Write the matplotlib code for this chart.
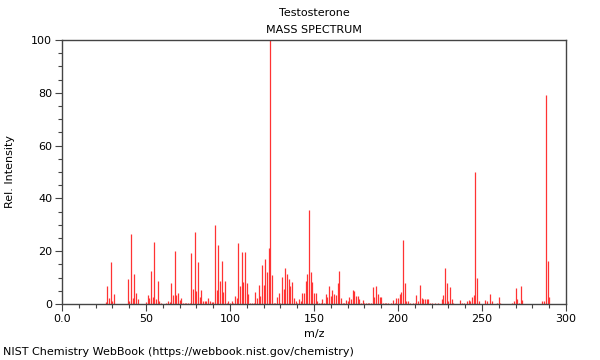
import matplotlib
matplotlib.use("Agg")
import matplotlib.pyplot as plt
from matplotlib.ticker import MultipleLocator, FixedLocator

mz = [26, 27, 28, 29, 30, 31, 39, 40, 41, 42, 43, 44, 45,
      50, 51, 52, 53, 54, 55, 56, 57, 58, 59,
      62, 63, 64, 65, 66, 67, 68, 69, 70, 71, 72, 73, 74, 75, 76,
      77, 78, 79, 80, 81, 82, 83, 84, 85, 86, 87, 88, 89, 90,
      91, 92, 93, 94, 95, 96, 97, 98, 99, 100, 101, 102, 103, 104,
      105, 106, 107, 108, 109, 110, 111, 112, 113, 114, 115, 116, 117, 118,
      119, 120, 121, 122, 123, 124, 125, 126, 127, 128, 129, 130,
      131, 132, 133, 134, 135, 136, 137, 138, 139, 140, 141, 142, 143, 144,
      145, 146, 147, 148, 149, 150, 151, 152, 153, 154, 155, 156, 157, 158,
      159, 160, 161, 162, 163, 164, 165, 166, 167, 168, 169, 170, 171, 172,
      173, 174, 175, 176, 177, 178, 179, 180, 181, 182, 183, 184, 185, 186,
      187, 188, 189, 190, 191, 192, 193, 194, 196, 197, 198, 199, 200, 201,
      202, 203, 204, 205, 206, 207, 209, 210, 211, 212, 213, 214, 215, 216,
      217, 218, 219, 220, 222, 224, 226, 227, 228, 229, 230, 231, 232, 233,
      237, 238, 239, 241, 242, 243, 244, 245, 246, 247, 248, 252, 253, 255,
      256, 259, 260, 261, 268, 269, 270, 271, 272, 273, 274, 286, 287, 288,
      289, 290]
intensity = [0.6, 6.8, 2.4, 16.0, 1.2, 3.8, 9.3, 1.0, 26.6, 2.2, 11.4, 4.0, 1.9,
             0.8, 3.4, 2.4, 12.5, 2.6, 23.5, 2.0, 8.7, 1.2, 0.5,
             0.5, 1.0, 0.8, 7.8, 3.4, 20.0, 3.4, 4.0, 1.5, 2.1, 0.5, 0.5, 0.3, 0.5, 0.5,
             19.3, 5.5, 27.3, 5.1, 15.9, 2.8, 5.3, 1.0, 1.0, 1.0, 2.3, 1.2, 0.8, 0.8,
             29.9, 5.3, 22.5, 8.7, 16.3, 4.5, 8.7, 0.5, 1.0, 0.5, 1.0, 0.5, 2.9, 2.1,
             23.1, 6.8, 19.8, 8.3, 19.6, 7.8, 3.7, 0.5, 0.3, 0.5, 4.5, 2.1, 7.3, 3.2,
             14.8, 7.1, 17.0, 12.2, 21.2, 100.0, 11.0, 0.5, 0.5, 2.8, 4.0, 0.5,
             10.2, 5.5, 13.6, 11.4, 9.5, 6.8, 8.5, 2.3, 1.0, 0.3, 1.8, 1.0, 4.2, 4.0,
             8.6, 11.4, 35.6, 12.1, 8.3, 4.0, 4.0, 1.2, 0.3, 0.3, 1.8, 0.5, 3.7, 2.5,
             6.7, 3.0, 5.3, 3.7, 3.3, 7.8, 12.5, 2.1, 0.3, 0.5, 1.5, 1.0, 2.5, 2.0,
             5.3, 4.9, 3.0, 3.0, 1.9, 0.3, 1.5, 0.5, 0.3, 0.3, 0.5, 0.5, 6.6, 2.8,
             6.8, 3.7, 2.8, 2.5, 0.5, 0.5, 0.3, 0.5, 0.5, 1.5, 0.5, 2.3, 2.3, 3.7,
             4.4, 24.2, 7.8, 1.0, 1.0, 0.5, 0.5, 0.5, 3.4, 1.0, 7.1, 2.1, 2.0, 2.0,
             2.0, 1.8, 0.5, 0.3, 0.3, 0.3, 1.8, 3.4, 13.8, 8.0, 1.0, 6.4, 1.8, 0.3,
             1.6, 0.3, 0.3, 1.0, 1.5, 1.0, 2.8, 3.4, 50.0, 9.8, 1.0, 1.5, 1.0, 3.8,
             1.0, 0.5, 2.8, 0.5, 0.3, 1.0, 6.1, 2.0, 0.5, 6.8, 1.5, 1.0, 1.0, 79.2,
             16.3, 2.8]

x_ticks = [0, 50, 100, 150, 200, 250, 300]
x_tick_labels = ["0.0", "50", "100", "150", "200", "250", "300"]
y_ticks = [0, 20, 40, 60, 80, 100]

plt.rcParams['font.family'] = ['DejaVu Sans']
fig = plt.figure(figsize=(6, 3.6), dpi=100)
ax = fig.add_axes([62 / 600, 1 - 304 / 360, 504 / 600, 264 / 360])

ax.vlines(mz, 0, intensity, colors="#ff3333", linewidth=0.9)

ax.set_xlim(0, 300)
ax.set_ylim(0, 100)
ax.xaxis.set_major_locator(FixedLocator(x_ticks))
ax.set_xticklabels(x_tick_labels)
ax.xaxis.set_minor_locator(MultipleLocator(10))
ax.yaxis.set_major_locator(FixedLocator(y_ticks))
ax.yaxis.set_minor_locator(MultipleLocator(5))

for s in ax.spines.values():
    s.set_color("#444444")
    s.set_linewidth(1.0)
ax.tick_params(which="major", length=5, width=0.8, color="#444444", labelsize=8, pad=2)
ax.tick_params(which="minor", length=3, width=0.8, color="#444444")

ax.set_xlabel("m/z", fontsize=8, labelpad=4)
ax.set_ylabel("Rel. Intensity", fontsize=8, labelpad=12)

fig.text(314 / 600, 1 - 13 / 360, "Testosterone", ha="center", va="center", fontsize=8)
fig.text(314 / 600, 1 - 30 / 360, "MASS SPECTRUM", ha="center", va="center", fontsize=8)
fig.text(3 / 600, 1 - 352 / 360, "NIST Chemistry WebBook (https://webbook.nist.gov/chemistry)",
         ha="left", va="center", fontsize=8)

fig.savefig("out.png", dpi=100)
